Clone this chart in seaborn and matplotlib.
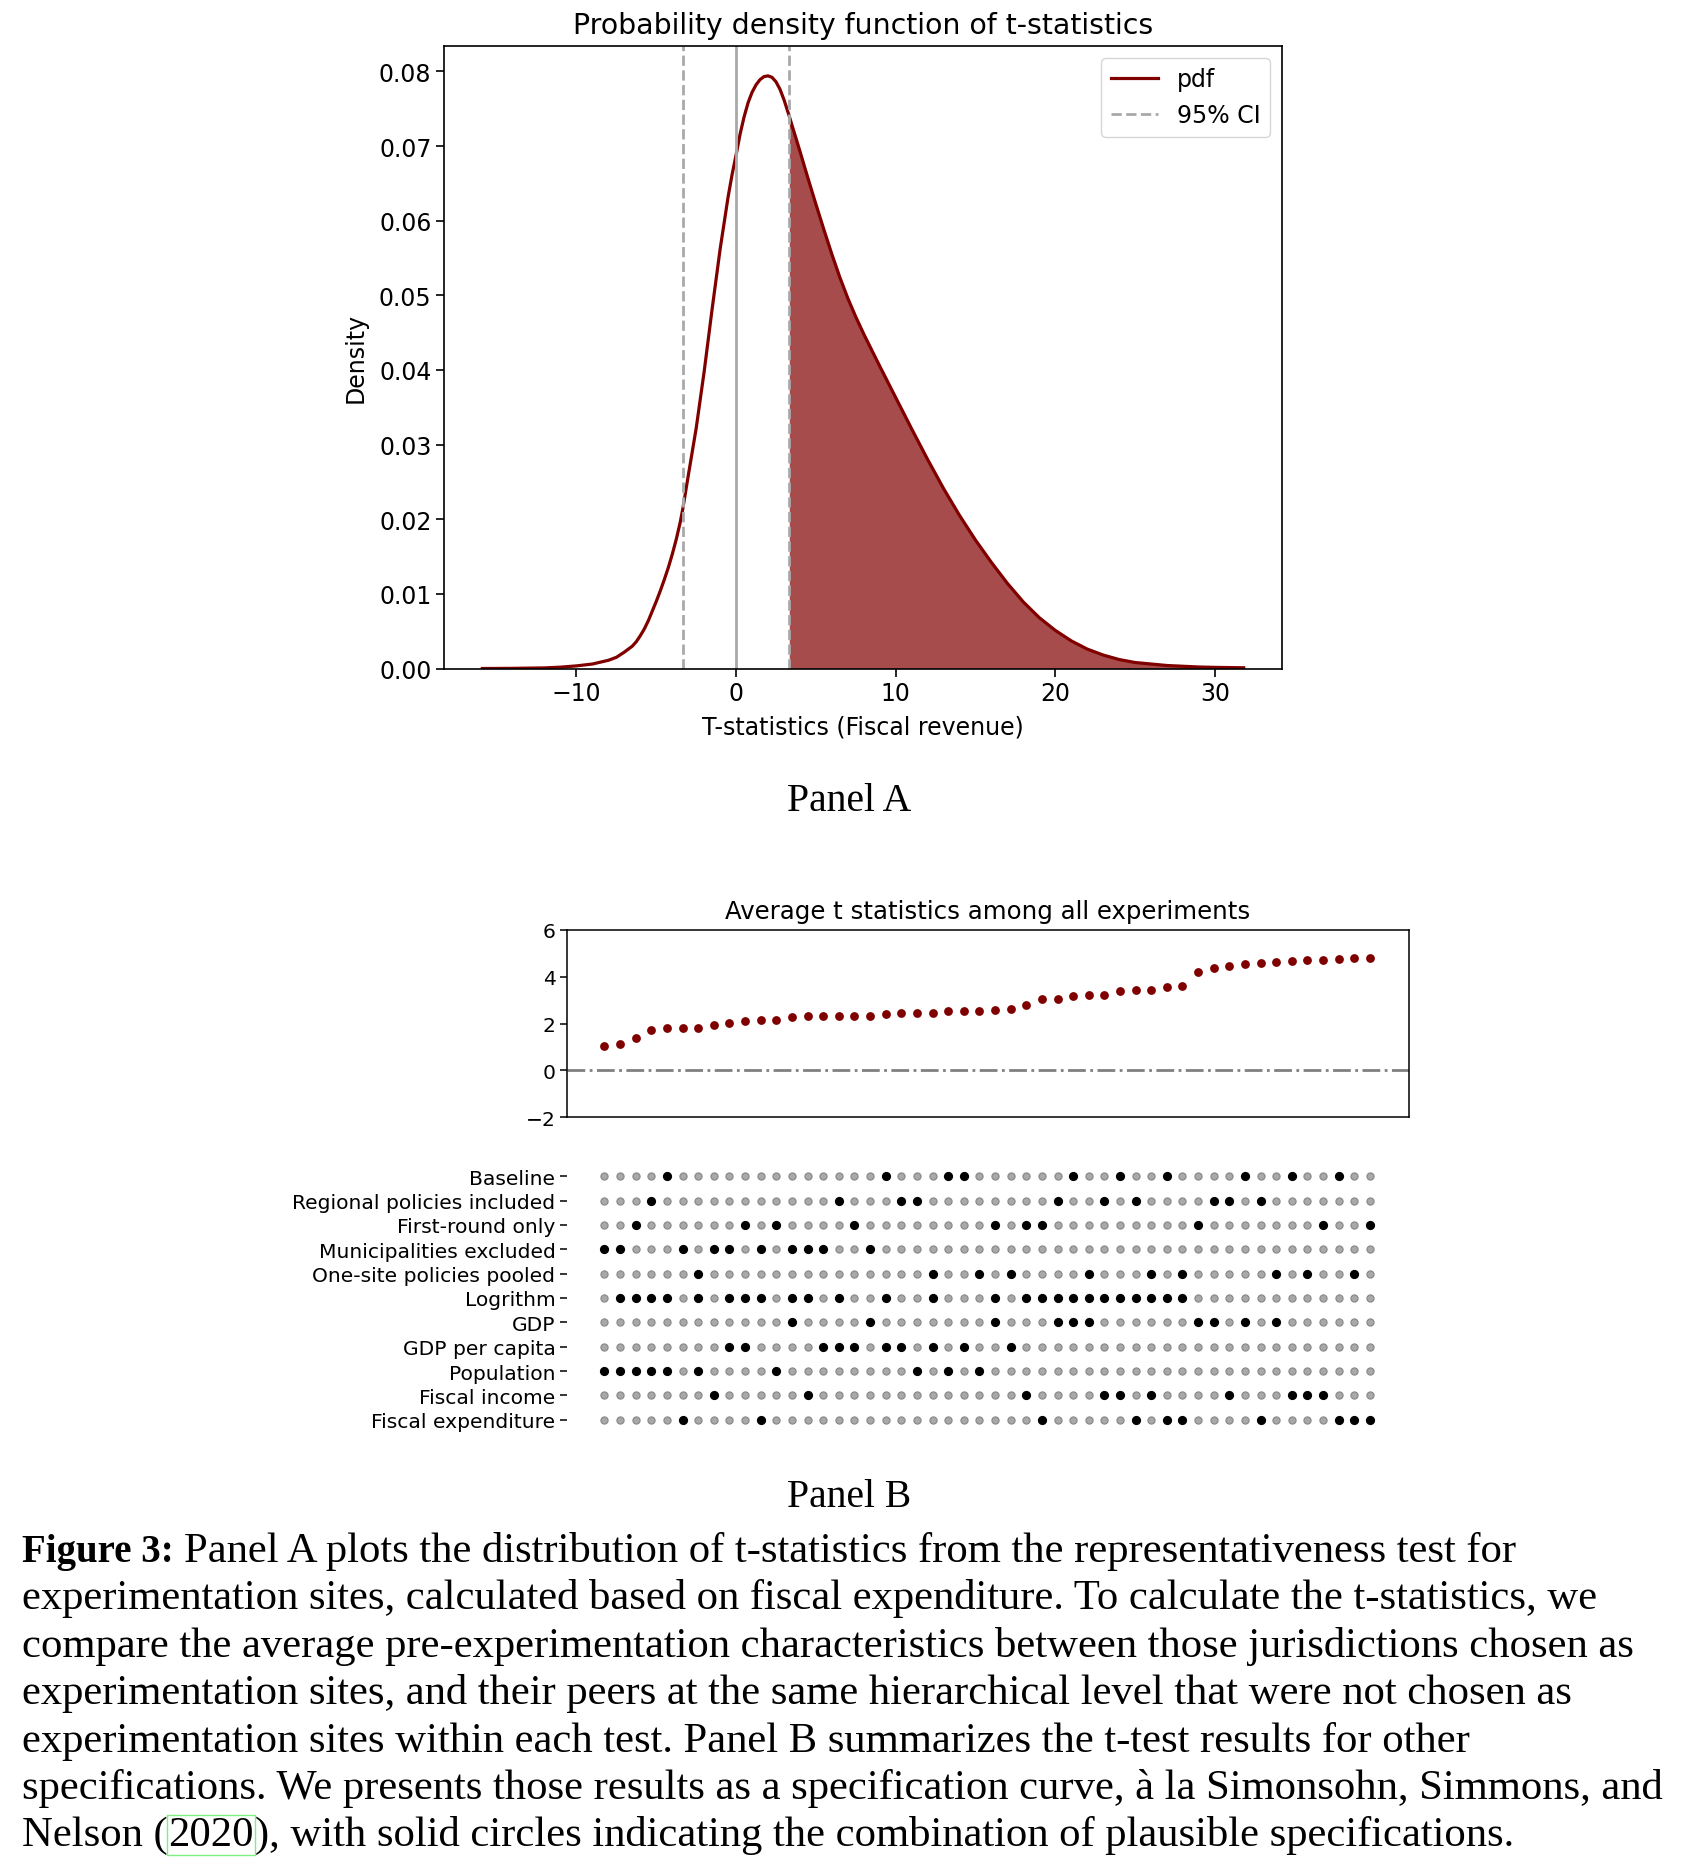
import numpy as np
import pandas as pd
import matplotlib
matplotlib.use("Agg")
import matplotlib.pyplot as plt
import seaborn as sns

# ---------------- Panel A data (density of t-statistics) ----
pdf_x = [-15.9, -14, -12, -11, -10, -9, -8, -7.5, -7, -6.5, -6.25, -6, -5.75,
         -5.5, -5.25, -5, -4.75, -4.5, -4.25, -4, -3.75, -3.5, -3.33, -3,
         -2.5, -2, -1.5, -1, -0.5, -0.25, 0, 0.25, 0.5, 0.75, 1, 1.25, 1.5,
         1.75, 2, 2.25, 2.5, 2.75, 3, 3.33, 3.5, 4, 4.5, 5, 5.5, 6, 6.5, 7,
         7.5, 8, 9, 10, 11, 12, 13, 14, 15, 16, 17, 18, 19, 20, 21, 22, 23,
         24, 25, 26, 27, 28, 29, 30, 31.8]
pdf_y = [0.0, 0.00002, 0.00008, 0.00018, 0.00035, 0.0006, 0.0011, 0.0015,
         0.0022, 0.0030, 0.0036, 0.0044, 0.0053, 0.0064, 0.0077, 0.0090,
         0.0104, 0.0119, 0.0135, 0.0153, 0.0173, 0.0196, 0.0215, 0.0258,
         0.0322, 0.0398, 0.0482, 0.0562, 0.0632, 0.0662, 0.0688, 0.0716,
         0.0739, 0.0758, 0.0772, 0.0782, 0.0789, 0.0793, 0.0794, 0.0792,
         0.0786, 0.0776, 0.0762, 0.0740, 0.0728, 0.0693, 0.0657, 0.0622,
         0.0588, 0.0555, 0.0524, 0.0496, 0.0471, 0.0448, 0.0405, 0.0363,
         0.0321, 0.0280, 0.0241, 0.0205, 0.0172, 0.0142, 0.0114, 0.0089,
         0.0068, 0.0051, 0.0037, 0.0026, 0.0018, 0.0012, 0.0008, 0.0006,
         0.0004, 0.0003, 0.0002, 0.00015, 0.0001]
ci_low, ci_high = -3.33, 3.33

# ---------------- Panel B data -------------------------------------------------
t_avg = [1.04, 1.13, 1.37, 1.73, 1.80, 1.80, 1.81, 1.93, 2.03, 2.11,
         2.17, 2.17, 2.29, 2.31, 2.31, 2.31, 2.34, 2.34, 2.40, 2.43,
         2.43, 2.46, 2.53, 2.53, 2.54, 2.59, 2.61, 2.81, 3.04, 3.04,
         3.16, 3.21, 3.24, 3.39, 3.43, 3.44, 3.56, 3.60, 4.20, 4.39,
         4.47, 4.56, 4.59, 4.61, 4.67, 4.73, 4.73, 4.77, 4.81, 4.80]

spec_labels = ["Baseline", "Regional policies included", "First-round only",
               "Municipalities excluded", "One-site policies pooled",
               "Logrithm", "GDP", "GDP per capita", "Population",
               "Fiscal income", "Fiscal expenditure"]

on_baseline = [4, 18, 22, 23, 30, 33, 36, 41, 44, 47]
on_regional = [3, 15, 19, 20, 29, 32, 34, 39, 40, 42]
on_first_round = [2, 9, 11, 16, 25, 27, 28, 38, 46, 49]
on_municip = [0, 1, 5, 7, 8, 10, 12, 13, 14, 17]
on_one_site = [6, 21, 24, 26, 31, 35, 37, 43, 45, 48]
on_log = [1, 2, 3, 4, 6, 8, 9, 10, 12, 13, 15, 18, 21, 25, 27, 28, 29, 30,
          31, 32, 33, 34, 35, 36, 37]
on_gdp = [12, 17, 25, 29, 30, 31, 38, 39, 41, 43]
on_gdp_pc = [8, 9, 14, 15, 16, 18, 19, 21, 23, 26]
on_population = [0, 1, 2, 3, 4, 6, 11, 20, 22, 24]
on_fiscal_income = [7, 13, 27, 32, 33, 35, 40, 44, 45, 46]
on_fiscal_exp = [5, 10, 28, 34, 36, 37, 42, 47, 48, 49]

caption_lines = [
    "Panel A plots the distribution of t-statistics from the representativeness test for",
    "experimentation sites, calculated based on fiscal expenditure. To calculate the t-statistics, we",
    "compare the average pre-experimentation characteristics between those jurisdictions chosen as",
    "experimentation sites, and their peers at the same hierarchical level that were not chosen as",
    "experimentation sites within each test. Panel B summarizes the t-test results for other",
    "specifications. We presents those results as a specification curve, à la Simonsohn, Simmons, and",
    "Nelson (",
]
caption_last_tail = "), with solid circles indicating the combination of plausible specifications."

# ---------------- styling --------------------------------------------------------
MAROON = "#800000"
plt.rcParams.update({
    "font.family": ["DejaVu Sans"],
    "axes.linewidth": 1.2,
    "xtick.major.width": 1.2, "ytick.major.width": 1.2,
    "xtick.major.size": 5.5, "ytick.major.size": 5.5,
    "xtick.color": "black", "ytick.color": "black",
    "axes.edgecolor": "black",
})

W, H = 1688, 1874


def box(l, t, r, b):
    return [l / W, 1 - b / H, (r - l) / W, (b - t) / H]


fig = plt.figure(figsize=(W / 100, H / 100), dpi=100)

# ---------------- Panel A ---------------------------------------------------------
FA = 17
axA = fig.add_axes(box(444, 47, 1282, 669.5))
dfA = pd.DataFrame({"t": pdf_x, "density": pdf_y})
sns.lineplot(data=dfA, x="t", y="density", color=MAROON, lw=2.3, label="pdf",
             ax=axA, sort=False, estimator=None)
mask = dfA["t"] >= ci_high - 1e-9
axA.fill_between(dfA.loc[mask, "t"], dfA.loc[mask, "density"], color=MAROON,
                 alpha=0.7, lw=0)
axA.axvline(ci_low, color="darkgrey", ls="--", lw=2, label="95% CI")
axA.axvline(ci_high, color="darkgrey", ls="--", lw=2)
axA.axvline(0, color="darkgrey", lw=2)
axA.set_xlim(-18.3, 34.2)
axA.set_ylim(0, 0.0834)
axA.set_xticks([-10, 0, 10, 20, 30])
axA.set_yticks([0, 0.01, 0.02, 0.03, 0.04, 0.05, 0.06, 0.07, 0.08])
axA.yaxis.set_major_formatter(matplotlib.ticker.FormatStrFormatter("%.2f"))
axA.tick_params(labelsize=FA)
axA.set_xlabel("T-statistics (Fiscal revenue)", fontsize=FA, labelpad=6.5)
axA.set_ylabel("Density", fontsize=FA, labelpad=8)
axA.set_title("Probability density function of t-statistics", fontsize=FA * 1.2,
              pad=9)
axA.legend(loc="upper right", fontsize=FA)

# ---------------- Panel B: top ----------------------------------------------------
FB = 14.6
axB = fig.add_axes(box(567, 931, 1409, 1118))
dfB = pd.DataFrame({"spec": np.arange(len(t_avg)), "t": t_avg})
sns.scatterplot(data=dfB, x="spec", y="t", color=MAROON, s=40, linewidth=0,
                ax=axB, legend=False)
axB.axhline(0, color="grey", ls="-.", lw=2)
axB.set_xlim(-2.4, 51.5)
axB.set_ylim(-2, 6)
axB.set_yticks([-2, 0, 2, 4, 6])
axB.set_xticks([])
axB.set_xlabel("")
axB.set_ylabel("")
axB.tick_params(labelsize=FB, length=4.8, width=1.1)
for s in axB.spines.values():
    s.set_linewidth(1.1)
axB.set_title("Average t statistics among all experiments", fontsize=FB * 1.2,
              pad=8.5)

# ---------------- Panel B: specification matrix ------------------------------------
chosen = [on_baseline, on_regional, on_first_round, on_municip, on_one_site,
          on_log, on_gdp, on_gdp_pc, on_population, on_fiscal_income,
          on_fiscal_exp]
rows = []
for r, lab in enumerate(spec_labels):
    for c in range(len(t_avg)):
        rows.append({"spec": c, "row": r, "on": c in chosen[r]})
dfM = pd.DataFrame(rows)

axM = fig.add_axes(box(567, 1165, 1409, 1433))
sns.scatterplot(data=dfM[~dfM["on"]], x="spec", y="row", color="#a9a9a9",
                edgecolor="#8a8a8a", linewidth=0.9, s=26, ax=axM, legend=False)
sns.scatterplot(data=dfM[dfM["on"]], x="spec", y="row", color="black",
                linewidth=0, s=44, ax=axM, legend=False)
axM.set_xlim(-2.4, 51.5)
axM.set_ylim(10.5, -0.5)
axM.set_yticks(range(len(spec_labels)))
axM.set_yticklabels(spec_labels)
axM.set_xticks([])
axM.set_xlabel("")
axM.set_ylabel("")
axM.tick_params(axis="y", labelsize=FB, length=4.8, width=1.1)
for s in axM.spines.values():
    s.set_visible(False)

# ---------------- Panel labels and caption -----------------------------------------
SERIF = ["Liberation Serif", "DejaVu Serif"]
base = 25
x0 = 21.5
baselines = [1562, 1609.4, 1656.8, 1704.2, 1751.6, 1799, 1846.4]

pA = fig.text(849 / W, 1 - 811 / H, "Panel A", family=SERIF, fontsize=base,
              ha="center", va="baseline")
pB = fig.text(849 / W, 1 - 1507 / H, "Panel B", family=SERIF, fontsize=base,
              ha="center", va="baseline")

bold = fig.text(x0 / W, 1 - baselines[0] / H, "Figure 3:", family=SERIF,
                fontsize=base, weight="bold", va="baseline")
line_txts = []
for i, s in enumerate(caption_lines):
    t = fig.text(x0 / W, 1 - baselines[i] / H, s, family=SERIF, fontsize=base,
                 va="baseline")
    line_txts.append(t)
cite = fig.text(x0 / W, 1 - baselines[6] / H, "2020", family=SERIF,
                fontsize=base, va="baseline",
                bbox=dict(boxstyle="square,pad=0.02", fc="none",
                          ec="#7ff07f", lw=1.0))
tail = fig.text(x0 / W, 1 - baselines[6] / H, caption_last_tail, family=SERIF,
                fontsize=base, va="baseline")
space = fig.text(0, 0, "a a", family=SERIF, fontsize=base, alpha=0)
nospace = fig.text(0, 0, "aa", family=SERIF, fontsize=base, alpha=0)

fig.canvas.draw()
rend = fig.canvas.get_renderer()
scale = 1617 / line_txts[2].get_window_extent(rend).width
fs = base * scale
wbold0 = bold.get_window_extent(rend).width
bold.set_fontsize(base * 152 / wbold0)
for t in [cite, tail, space, nospace] + line_txts:
    t.set_fontsize(fs)
for t in [pA, pB]:
    t.set_fontsize(fs * 0.93)
fig.canvas.draw()
sp = space.get_window_extent(rend).width - nospace.get_window_extent(rend).width
wb = bold.get_window_extent(rend).width
line_txts[0].set_x((x0 + wb + sp) / W)
w_nel = line_txts[6].get_window_extent(rend).width
cite.set_x((x0 + w_nel + 1) / W)
fig.canvas.draw()
w_cite = cite.get_window_extent(rend).width
tail.set_x((x0 + w_nel + 1 + w_cite + 1) / W)

fig.savefig("out.png", dpi=100)
